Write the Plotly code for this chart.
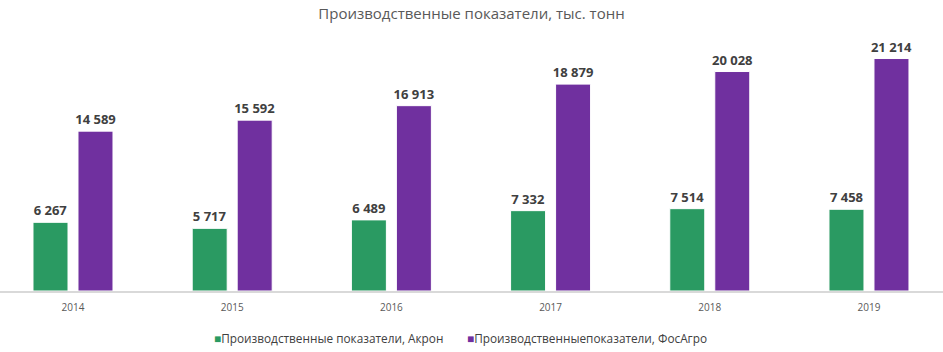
import plotly.graph_objects as go

years = ["2014", "2015", "2016", "2017", "2018", "2019"]
akron = [6267, 5717, 6489, 7332, 7514, 7458]
phosagro = [14589, 15592, 16913, 18879, 20028, 21214]
name_akron = "Производственные показатели, Акрон"
name_phos = "Производственныепоказатели, ФосАгро"
title = "Производственные показатели, тыс. тонн"
color_akron = "#2A9A62"
color_phos = "#70309F"

def fmt(v):
    return f"{v:,}".replace(",", " ")

label_font = dict(family="Open Sans, sans-serif", size=13, color="#404040")

fig = go.Figure()
fig.add_trace(go.Bar(
    x=years, y=akron, name=name_akron,
    marker=dict(color=color_akron, line=dict(color="#ffffff", width=1)),
    text=[f"<b>{fmt(v)}</b>" for v in akron], textposition="outside",
    textfont=label_font, cliponaxis=False, showlegend=False, constraintext="none",
))
fig.add_trace(go.Bar(
    x=years, y=phosagro, name=name_phos,
    marker=dict(color=color_phos, line=dict(color="#ffffff", width=1)),
    text=[f"<b>{fmt(v)}</b>" for v in phosagro], textposition="outside",
    textfont=label_font, cliponaxis=False, showlegend=False, constraintext="none",
))

legend_font = dict(family="Open Sans, sans-serif", size=11.8, color="#404040")
for xpos, col, nm in [(212, color_akron, name_akron), (465, color_phos, name_phos)]:
    fig.add_annotation(
        xref="paper", yref="paper", x=xpos / 943, y=-(338 - 291) / 263,
        xanchor="left", yanchor="middle", showarrow=False,
        text=f"<span style='color:{col}'>■</span>{nm}", font=legend_font,
    )

fig.update_layout(
    width=943, height=352,
    margin=dict(l=0, r=0, t=28, b=61),
    paper_bgcolor="white", plot_bgcolor="white",
    barmode="group", bargap=0.4347, bargroupgap=0.222,
    title=dict(text=title, x=0.5, xanchor="center", y=0.96, yanchor="middle",
               font=dict(family="Open Sans, sans-serif", size=15, color="#595959")),
    xaxis=dict(type="category", range=[-0.4585, 5.465], showgrid=False,
               showline=True, linecolor="#D9D9D9", linewidth=1.5,
               ticks="", ticklabelstandoff=6,
               tickfont=dict(family="Open Sans, sans-serif", size=10, color="#595959")),
    yaxis=dict(range=[0, 24000], visible=False, showgrid=False, zeroline=False),
    showlegend=False,
)
fig.write_html("out.html")
